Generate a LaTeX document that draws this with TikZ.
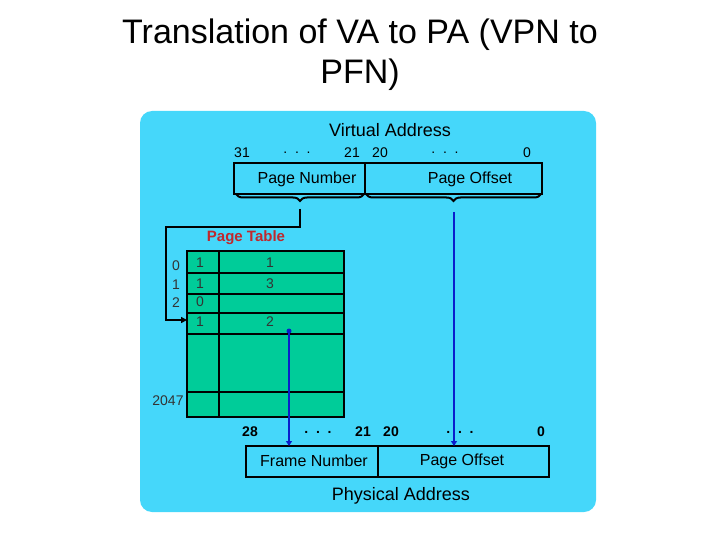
\documentclass[tikz,border=0pt]{standalone}
\usepackage{fontspec}
\setmainfont{Liberation Sans}
\usetikzlibrary{decorations.pathreplacing,arrows.meta}
\definecolor{panel}{HTML}{45D7FA}
\definecolor{tab}{HTML}{00CC99}
\definecolor{ptred}{HTML}{C0282D}
\definecolor{arrblue}{HTML}{0A1ECC}
\begin{document}
\begin{tikzpicture}[x=1pt,y=-1pt,
  num/.style={font=\fontsize{14}{14}\selectfont},
  bnum/.style={font=\bfseries\fontsize{14}{14}\selectfont},
  lbl/.style={font=\fontsize{16}{16}\selectfont},
  ttl/.style={font=\fontsize{18}{18}\selectfont},
  box/.style={draw=black,line width=2.5pt},
  brc/.style={draw=black,line width=2pt,decorate,decoration={brace,mirror,amplitude=7pt}},
  bline/.style={draw=arrblue,line width=2.5pt},
  idx/.style={font=\fontsize{14}{14}\selectfont,text=black!80}]
\useasboundingbox (0,0) rectangle (720,540);
\node[font=\fontsize{34}{40}\selectfont,align=center] (title) at (360,55) {Translation of VA to PA (VPN to\\PFN)};
\fill[panel,rounded corners=12pt] (140,111) rectangle (596,512);
% virtual address
\node[ttl] (va) at (390,130) {Virtual Address};
\node[num] (v31) at (242,153) {31};
\node[num] (vd1) at (297,153) {.\ \ .\ \ .};
\node[num] (v21) at (352,153) {21};
\node[num] (v20) at (380,153) {20};
\node[num] (vd2) at (445,153) {.\ \ .\ \ .};
\node[num] (v0) at (527,153) {0};
\draw[box] (234,163) rectangle (542,194);
\draw[box] (365,163) -- (365,194);
\node[lbl] (pn) at (307,179) {Page Number};
\node[lbl] (po) at (470,179) {Page Offset};
\draw[brc] (236,194) -- (364,194);
\draw[brc] (366,194) -- (541,194);
\coordinate (b1) at (300,209);
\coordinate (b2) at (454,212);
% page table
\node[font=\bfseries\fontsize{15}{15}\selectfont,text=ptred] (pt) at (246,238) {Page Table};
\fill[tab] (187,251) rectangle (344,417);
\draw[box] (187,251) rectangle (344,417);
\foreach \y in {273,294,313,334,392} \draw[box] (187,\y) -- (344,\y);
\draw[box] (219,251) -- (219,417);
\node[idx] (i0) at (176,266) {0};
\node[idx] (i1) at (176,285) {1};
\node[idx] (i2) at (176,303) {2};
\node[idx] (i2047) at (168,401) {2047};
\node[idx] (a0) at (200,263) {1};
\node[idx] (a1) at (200,284) {1};
\node[idx] (a2) at (200,302) {0};
\node[idx] (a3) at (200,322) {1};
\node[idx] (f0) at (270,263) {1};
\node[idx] (f1) at (270,284) {3};
\node[idx] (f3) at (270,322) {2};
\coordinate (rowin) at (187,320);
\draw[box,line width=2pt,-{Triangle[length=6pt,width=6pt]}] (b1) -- (300,227) -- (166,227) -- (166,320) -- (rowin);
% physical address
\draw[box] (246,446) rectangle (549,477);
\draw[box] (378,446) -- (378,477);
\node[lbl] (fn) at (314,461) {Frame Number};
\node[lbl] (po2) at (462,461) {Page Offset};
\node[bnum] (p28) at (250,432) {28};
\node[bnum] (pd1) at (318,432) {.\ \ .\ \ .};
\node[bnum] (p21) at (363,432) {21};
\node[bnum] (p20) at (391,432) {20};
\node[bnum] (pd2) at (460,432) {.\ \ .\ \ .};
\node[bnum] (p0) at (541,432) {0};
\node[ttl] (pa) at (401,496) {Physical Address};
\coordinate (fstart) at (289,331);
\coordinate (fend) at (289,446);
\coordinate (oend) at (454,446);
\fill[arrblue] (fstart) circle (2.5pt);
\draw[bline,-{Triangle[length=5pt,width=6pt]}] (fstart) -- (fend);
\draw[bline,-{Triangle[length=5pt,width=6pt]}] (b2) -- (oend);
\end{tikzpicture}
\end{document}
